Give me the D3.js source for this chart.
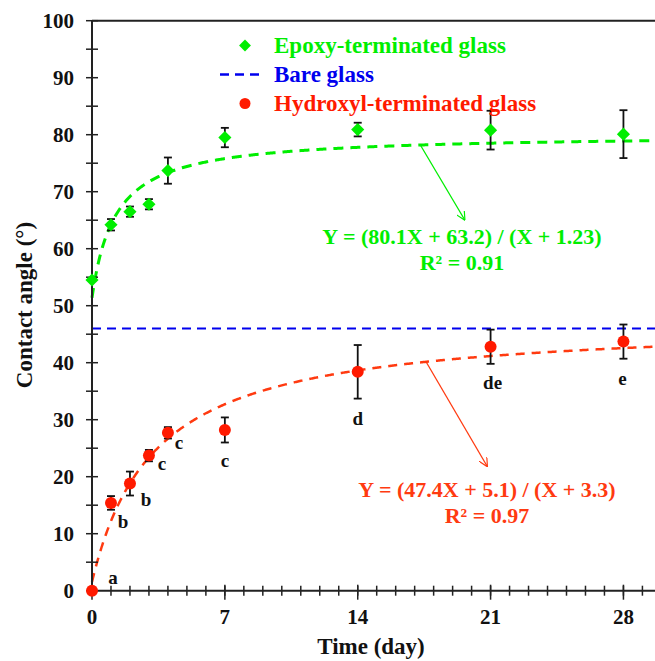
<!DOCTYPE html>
<html><head><meta charset="utf-8">
<script src="https://cdn.jsdelivr.net/npm/d3@7"></script>
<style>body{margin:0;background:#fff}svg{display:block}text{font-family:"Liberation Serif","Times New Roman",serif;font-weight:bold}</style>
</head><body><svg id="c" width="655" height="661"></svg>
<script>
// ---- data ----
const days = [0, 1, 2, 3, 4, 7, 14, 21, 28];
const epoxyMean = [54.5, 64.2, 66.5, 67.8, 73.7, 79.5, 80.9, 80.8, 80.1];
const epoxyErr  = [0, 1.0, 0.9, 0.9, 2.3, 1.7, 1.2, 3.4, 4.2];
const hydroxylMean = [0, 15.4, 18.8, 23.7, 27.7, 28.2, 38.4, 42.8, 43.7];
const hydroxylErr  = [0, 1.2, 2.1, 1.0, 1.0, 2.2, 4.7, 3.0, 3.0];
const hydroxylLetters = ["a", "b", "b", "c", "c", "c", "d", "de", "e"];
const bareGlass = 46;
const epoxyFit = [80.1, 63.2, 1.23];     // Y = (a X + b) / (X + c)
const hydroxylFit = [47.4, 5.1, 3.3];
const xTicks = [0, 7, 14, 21, 28];
const yTicks = [0, 10, 20, 30, 40, 50, 60, 70, 80, 90, 100];

// ---- layout ----
const svg = d3.select("#c");
const x = d3.scaleLinear().domain([0, 30]).range([92, 92 + 30 * 18.98]);
const y = d3.scaleLinear().domain([0, 100]).range([590.7, 20.7]);
const GREEN = "#00ee00", RED = "#ff1a00", FITRED = "#ff3a10", BLUE = "#0000ee";

// top frame
svg.append("line").attr("x1", x(0)).attr("x2", 655).attr("y1", y(100)).attr("y2", y(100))
  .attr("stroke", "#222").attr("stroke-width", 2);

// bare glass line
svg.append("line").attr("x1", x(0)).attr("x2", 655).attr("y1", y(bareGlass)).attr("y2", y(bareGlass))
  .attr("stroke", BLUE).attr("stroke-width", 2).attr("stroke-dasharray", "9,6");

// fit curves
function fitPts(p) {
  const xs = d3.range(0, 30.01, 0.05);
  return xs.map(v => [v, (p[0] * v + p[1]) / (v + p[2])]);
}
const line = d3.line().x(d => x(d[0])).y(d => y(d[1]));
svg.append("path").attr("d", line(fitPts(epoxyFit))).attr("fill", "none")
  .attr("stroke", GREEN).attr("stroke-width", 3).attr("stroke-dasharray", "10,7");
svg.append("path").attr("d", line(fitPts(hydroxylFit))).attr("fill", "none")
  .attr("stroke", FITRED).attr("stroke-width", 2.5).attr("stroke-dasharray", "9,7");

// axes
const xAxis = svg.append("g").attr("transform", `translate(0,${y(0)})`);
xAxis.append("line").attr("x1", x(0)).attr("x2", 655).attr("stroke", "#222").attr("stroke-width", 2);
xAxis.selectAll(".mt").data(d3.range(1, 30)).join("line")
  .attr("x1", d => x(d)).attr("x2", d => x(d)).attr("y1", -5).attr("y2", 5)
  .attr("stroke", "#222").attr("stroke-width", 1.5);
xAxis.selectAll(".Mt").data(xTicks).join("line")
  .attr("x1", d => x(d)).attr("x2", d => x(d)).attr("y1", -6).attr("y2", 9)
  .attr("stroke", "#222").attr("stroke-width", 1.5);
xAxis.selectAll("text").data(xTicks).join("text")
  .attr("x", d => x(d)).attr("y", 33).attr("text-anchor", "middle")
  .attr("font-size", 21).attr("fill", "#111").text(d => d);

const yAxis = svg.append("g").attr("transform", `translate(${x(0)},0)`);
yAxis.append("line").attr("y1", y(0)).attr("y2", y(100)).attr("stroke", "#222").attr("stroke-width", 2);
yAxis.selectAll(".mt").data(d3.range(5, 100, 10)).join("line")
  .attr("y1", d => y(d)).attr("y2", d => y(d)).attr("x1", -6).attr("x2", 6)
  .attr("stroke", "#222").attr("stroke-width", 1.5);
yAxis.selectAll(".Mt").data(yTicks).join("line")
  .attr("y1", d => y(d)).attr("y2", d => y(d)).attr("x1", -6).attr("x2", 6)
  .attr("stroke", "#222").attr("stroke-width", 1.5);
yAxis.selectAll("text").data(yTicks).join("text")
  .attr("x", -18).attr("y", d => y(d) + 7).attr("text-anchor", "end")
  .attr("font-size", 21).attr("fill", "#111").text(d => d);

svg.append("text").attr("transform", "translate(32,305) rotate(-90)").attr("text-anchor", "middle")
  .attr("font-size", 23).attr("fill", "#111").text("Contact angle (°)");
svg.append("text").attr("x", 371).attr("y", 654).attr("text-anchor", "middle")
  .attr("font-size", 23).attr("fill", "#111").text("Time (day)");

// error bars
function errBars(mean, err) {
  const g = svg.append("g").attr("stroke", "#111").attr("stroke-width", 1.8);
  days.forEach((d, i) => {
    if (!err[i]) return;
    const cx = x(d), y1 = y(mean[i] + err[i]), y2 = y(mean[i] - err[i]);
    g.append("line").attr("x1", cx).attr("x2", cx).attr("y1", y1).attr("y2", y2);
    g.append("line").attr("x1", cx - 4).attr("x2", cx + 4).attr("y1", y1).attr("y2", y1);
    g.append("line").attr("x1", cx - 4).attr("x2", cx + 4).attr("y1", y2).attr("y2", y2);
  });
}
errBars(epoxyMean, epoxyErr);
errBars(hydroxylMean, hydroxylErr);

// points
const diamond = d3.symbol().type(d3.symbolDiamond2).size(110);
svg.append("g").selectAll("path").data(days).join("path")
  .attr("d", diamond).attr("transform", (d, i) => `translate(${x(d)},${y(epoxyMean[i])})`)
  .attr("fill", GREEN);
svg.append("g").selectAll("circle").data(days).join("circle")
  .attr("cx", d => x(d)).attr("cy", (d, i) => y(hydroxylMean[i])).attr("r", 6)
  .attr("fill", RED);

// significance letters (pixel offsets from point)
const letterOffsets = [[21, -7], [12, 25], [16, 22], [13, 14], [11, 16], [0, 37], [0, 53], [2, 42], [-1, 43]];
svg.append("g").selectAll("text").data(days).join("text")
  .attr("x", (d, i) => x(d) + letterOffsets[i][0]).attr("y", (d, i) => y(hydroxylMean[i]) + letterOffsets[i][1])
  .attr("text-anchor", "middle").attr("font-size", 19).attr("fill", "#111")
  .text((d, i) => hydroxylLetters[i]);

// legend
svg.append("path").attr("d", d3.symbol().type(d3.symbolDiamond2).size(90)).attr("transform", "translate(245,45.5)").attr("fill", GREEN);
svg.append("line").attr("x1", 220).attr("x2", 262).attr("y1", 74.5).attr("y2", 74.5)
  .attr("stroke", BLUE).attr("stroke-width", 2.5).attr("stroke-dasharray", "9,6");
svg.append("circle").attr("cx", 245).attr("cy", 103.5).attr("r", 5.5).attr("fill", RED);
const legend = [["Epoxy-terminated glass", GREEN, 45.5], ["Bare glass", BLUE, 74.5], ["Hydroxyl-terminated glass", RED, 103.5]];
svg.append("g").selectAll("text").data(legend).join("text")
  .attr("x", 274).attr("y", d => d[2] + 7.5).attr("font-size", 23).attr("fill", d => d[1]).text(d => d[0]);

// arrows + equations
svg.append("defs").html(
  `<marker id="ag" viewBox="0 0 10 10" refX="9" refY="5" markerWidth="9" markerHeight="9" orient="auto" markerUnits="userSpaceOnUse"><path d="M0,0 L10,5 L0,10" fill="none" stroke="${GREEN}" stroke-width="1.3"/></marker>` +
  `<marker id="ar" viewBox="0 0 10 10" refX="9" refY="5" markerWidth="9" markerHeight="9" orient="auto" markerUnits="userSpaceOnUse"><path d="M0,0 L10,5 L0,10" fill="none" stroke="${FITRED}" stroke-width="1.3"/></marker>`);
const ex = 17.3, hx = 17.6;
svg.append("line").attr("x1", x(ex)).attr("y1", y((epoxyFit[0]*ex+epoxyFit[1])/(ex+epoxyFit[2])))
  .attr("x2", 464.5).attr("y2", 219.5).attr("stroke", GREEN).attr("stroke-width", 1.3).attr("marker-end", "url(#ag)");
svg.append("line").attr("x1", x(hx)).attr("y1", y((hydroxylFit[0]*hx+hydroxylFit[1])/(hx+hydroxylFit[2])))
  .attr("x2", 487).attr("y2", 466).attr("stroke", FITRED).attr("stroke-width", 1.3).attr("marker-end", "url(#ar)");

function eq(cx, cy, p, r2, col) {
  svg.append("text").attr("x", cx).attr("y", cy).attr("text-anchor", "middle").attr("font-size", 22).attr("fill", col)
    .text(`Y = (${p[0]}X + ${p[1]}) / (X + ${p[2]})`);
  svg.append("text").attr("x", cx).attr("y", cy + 26).attr("text-anchor", "middle").attr("font-size", 22).attr("fill", col).text(`R² = ${r2}`);
}
eq(462, 244, epoxyFit, "0.91", GREEN);
eq(487, 496.5, hydroxylFit, "0.97", FITRED);
</script></body></html>
